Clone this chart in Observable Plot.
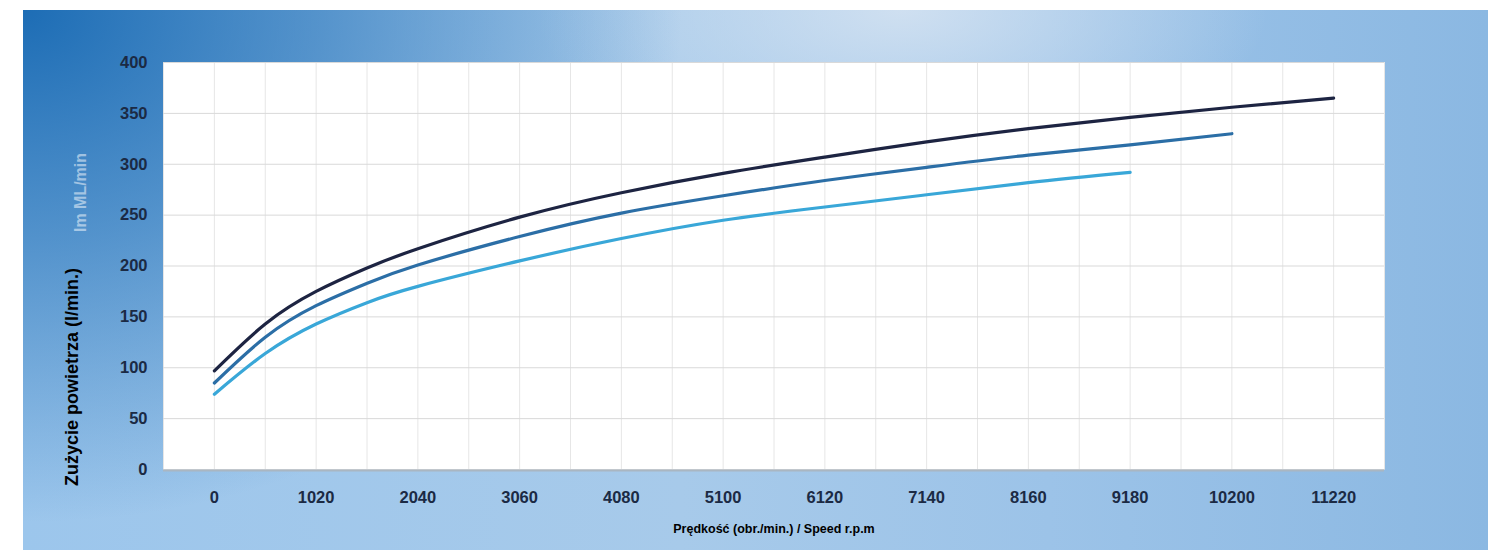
<!DOCTYPE html>
<html>
<head>
<meta charset="utf-8">
<script src="https://cdn.jsdelivr.net/npm/d3@7"></script>
<script src="https://cdn.jsdelivr.net/npm/@observablehq/plot@0.6"></script>
<style>
  html, body { margin: 0; padding: 0; background: #ffffff; }
  #wrap { position: relative; width: 1497px; height: 560px; overflow: hidden; }
  #panel {
    position: absolute; left: 23px; top: 10px; width: 1465px; height: 540px;
    background:
      radial-gradient(ellipse 45% 95% at 0% 0%, rgba(22,104,178,0.95) 0%, rgba(22,104,178,0.55) 45%, rgba(22,104,178,0) 100%),
      radial-gradient(ellipse 25% 30% at 60% 0%, rgba(215,228,242,0.85) 0%, rgba(215,228,242,0) 100%),
      linear-gradient(to right, #9cc6ec 0%, #a7caea 45%, #9cc3e8 70%, #8bb8e2 100%);
  }
  #chart { position: absolute; left: 0; top: 0; }
</style>
</head>
<body>
<div id="wrap"><div id="panel"></div><div id="chart"></div></div>
<script>
// ---- data ----
const speeds = [0, 510, 1020, 1530, 2040, 3060, 4080, 5100, 6120, 7140, 8160, 9180, 10200, 11220];
const seriesTop    = [97, 143, 175, 198, 217, 248, 272, 291, 307, 322, 335, 346, 356, 365];
const seriesMiddle = [85, 130, 161, 183, 201, 229, 252, 269, 284, 297, 309, 319, 330];
const seriesBottom = [74, 114, 143, 164, 180, 205, 227, 245, 258, 270, 282, 292];
const seriesNames = ["top", "middle", "bottom"];
const seriesColors = ["#1d2442", "#2b6ea6", "#39a7d8"];
const xTicks = [0, 1020, 2040, 3060, 4080, 5100, 6120, 7140, 8160, 9180, 10200, 11220];
const yTicks = [0, 50, 100, 150, 200, 250, 300, 350, 400];
const xGrid = d3.range(-510, 11731, 510);
const yTitle = "Zużycie powietrza (l/min.)";
const xTitle = "Prędkość (obr./min.) / Speed r.p.m";
const ghostText = "Im ML/min";

const rows = [];
[seriesTop, seriesMiddle, seriesBottom].forEach((vals, i) => {
  vals.forEach((v, j) => rows.push({series: seriesNames[i], speed: speeds[j], value: v}));
});

const chart = Plot.plot({
  width: 1497,
  height: 560,
  marginLeft: 163,
  marginRight: 113,
  marginTop: 62,
  marginBottom: 91,
  style: {background: "transparent", fontFamily: "'Liberation Sans', Arial, sans-serif"},
  x: {domain: [-510, 11730], ticks: xTicks, tickFormat: d => String(d), tickSize: 0, tickPadding: 22, label: null},
  y: {domain: [0, 400], ticks: yTicks, tickSize: 0, tickPadding: 16, label: null},
  color: {domain: seriesNames, range: seriesColors},
  marks: [
    Plot.frame({fill: "white", stroke: "#c9d2da"}),
    Plot.ruleX(xGrid, {stroke: "#e6e6e6", strokeWidth: 1}),
    Plot.ruleY(yTicks, {stroke: "#d9d9d9", strokeWidth: 1}),
    Plot.ruleY([0], {stroke: "#a9b6c2", strokeWidth: 2, dy: 1}),
    Plot.axisX({ticks: xTicks, tickFormat: d => String(d), tickSize: 0, tickPadding: 22,
      fontSize: 16.5, fontWeight: "bold", fill: "#1b2a44", label: null}),
    Plot.axisY({ticks: yTicks, tickSize: 0, tickPadding: 16,
      fontSize: 16.5, fontWeight: "bold", fill: "#1b2a44", label: null}),
    Plot.line(rows, {x: "speed", y: "value", z: "series", stroke: "series",
      strokeWidth: 3.2, curve: "natural", strokeLinecap: "round"}),
    Plot.text([xTitle], {frameAnchor: "bottom", dy: 63, fontSize: 12.5, fontWeight: "bold", fill: "#000"}),
    Plot.text([yTitle], {frameAnchor: "left", dx: -91, dy: 220, rotate: -90, fontSize: 18, fontWeight: "bold", fill: "#000", textAnchor: "start"}),
    Plot.text([ghostText], {frameAnchor: "top-left", dx: -89, dy: 130, rotate: -90, fontSize: 16, fontWeight: "bold", fill: "#ffffff", fillOpacity: 0.5, textAnchor: "middle"})
  ]
});
document.getElementById("chart").appendChild(chart);
</script>
</body>
</html>
